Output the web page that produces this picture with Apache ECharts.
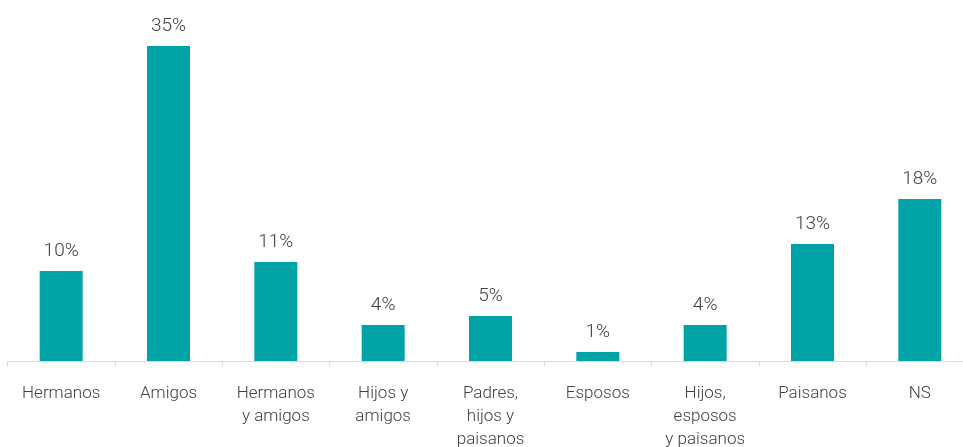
<!DOCTYPE html>
<html><head><meta charset="utf-8">
<script src="https://cdn.jsdelivr.net/npm/echarts@6/dist/echarts.min.js"></script>
<style>html,body{margin:0;padding:0;background:#fff}#c{width:963px;height:447px}</style>
</head><body><div id="c"></div>
<script>
const categories = ["Hermanos", "Amigos", "Hermanos\ny amigos", "Hijos y\namigos", "Padres,\nhijos y\npaisanos", "Esposos", "Hijos,\nesposos\ny paisanos", "Paisanos", "NS"];
const values = [10, 35, 11, 4, 5, 1, 4, 13, 18];

const chart = echarts.init(document.getElementById('c'));
chart.setOption({
  animation: false,
  grid: { left: 7.5, width: 966, top: 1, height: 360, outerBoundsMode: 'none' },
  xAxis: {
    type: 'category', data: categories,
    axisLine: { lineStyle: { color: '#d9d9d9', width: 1 } },
    axisTick: { show: true, length: 5, alignWithLabel: false, lineStyle: { color: '#d9d9d9' } },
    axisLabel: { interval: 0, margin: 21, fontFamily: 'Roboto', fontSize: 17, color: '#404040', lineHeight: 23, fontWeight: 300 }
  },
  yAxis: { type: 'value', min: 0, max: 40, show: false, splitLine: { show: false } },
  series: [{
    type: 'bar', data: values, barWidth: 43,
    itemStyle: { color: '#00A3A6' },
    label: { show: true, position: 'top', distance: 10, formatter: '{c}%', fontFamily: 'Roboto', fontSize: 19, color: '#404040', fontWeight: 300 }
  }]
});
</script></body></html>
